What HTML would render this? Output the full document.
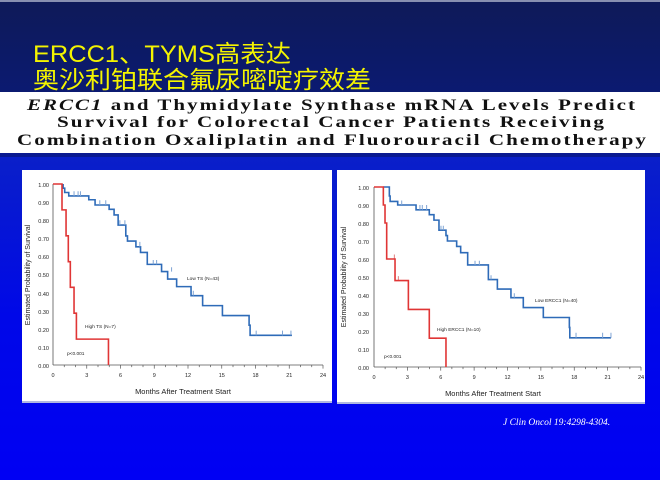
<!DOCTYPE html>
<html><head><meta charset="utf-8"><style>
html,body{margin:0;padding:0;width:660px;height:480px;overflow:hidden}
</style></head><body>
<svg width="660" height="480" viewBox="0 0 660 480" xmlns="http://www.w3.org/2000/svg">
<defs>
<linearGradient id="top" x1="0" y1="0" x2="0" y2="1"><stop offset="0" stop-color="#0e1a58"/><stop offset="1" stop-color="#0b1a72"/></linearGradient>
<linearGradient id="bot" x1="0" y1="0" x2="0" y2="1"><stop offset="0" stop-color="#0a20c8"/><stop offset="0.5" stop-color="#0008e8"/><stop offset="1" stop-color="#0000f4"/></linearGradient>
</defs>
<rect x="0" y="0" width="660" height="96" fill="url(#top)"/>
<rect x="0" y="0" width="660" height="2" fill="#8890b0"/>
<rect x="0" y="153" width="660" height="327" fill="url(#bot)"/>
<rect x="0" y="153" width="660" height="4" fill="#0a1a90"/>
<rect x="0" y="92" width="660" height="61" fill="#ffffff"/>
<g font-family="Liberation Sans, 'Noto Sans CJK SC', sans-serif" fill="#f4f400" font-size="24">
<text x="33" y="62" textLength="258" lengthAdjust="spacingAndGlyphs">ERCC1、TYMS高表达</text>
<text x="33" y="88" textLength="338" lengthAdjust="spacingAndGlyphs">奥沙利铂联合氟尿嘧啶疗效差</text>
</g>
<g font-family="Liberation Serif, serif" font-weight="bold" font-size="15.5" fill="#111" letter-spacing="1.5">
<text x="27" y="110" textLength="610" lengthAdjust="spacingAndGlyphs"><tspan font-style="italic">ERCC1</tspan> and Thymidylate Synthase mRNA Levels Predict</text>
<text x="57" y="127" textLength="549" lengthAdjust="spacingAndGlyphs">Survival for Colorectal Cancer Patients Receiving</text>
<text x="17" y="145" textLength="631" lengthAdjust="spacingAndGlyphs">Combination Oxaliplatin and Fluorouracil Chemotherapy</text>
</g>

<!-- LEFT PANEL -->
<rect x="22" y="170" width="310" height="233" fill="#fff"/>
<rect x="22" y="401" width="310" height="2" fill="#b0b8e0"/>
<g font-family="Liberation Sans, sans-serif" fill="#222">
<g stroke="#555" stroke-width="0.8" fill="none">
<line x1="53" y1="184" x2="53" y2="365"/><line x1="53" y1="365" x2="323" y2="365"/>
</g>
<g font-size="5.5" text-anchor="end">
<text x="49" y="187">1.00</text><text x="49" y="205">0.90</text><text x="49" y="223">0.80</text><text x="49" y="241">0.70</text><text x="49" y="259">0.60</text><text x="49" y="277">0.50</text><text x="49" y="296">0.40</text><text x="49" y="314">0.30</text><text x="49" y="332">0.20</text><text x="49" y="350">0.10</text><text x="49" y="368">0.00</text>
</g>
<g font-size="5.5" text-anchor="middle">
<text x="53" y="377">0</text><text x="86.75" y="377">3</text><text x="120.5" y="377">6</text><text x="154.25" y="377">9</text><text x="188" y="377">12</text><text x="221.75" y="377">15</text><text x="255.5" y="377">18</text><text x="289.25" y="377">21</text><text x="323" y="377">24</text>
</g>
<text x="183" y="394" font-size="7.5" text-anchor="middle">Months  After Treatment Start</text>
<text transform="translate(30,275) rotate(-90)" font-size="7" text-anchor="middle">Estimated  Probability  of  Survival</text>
<text x="187" y="280" font-size="4.8">Low TS (N=43)</text>
<text x="85" y="328" font-size="4.8">High TS (N=7)</text>
<text x="67" y="355" font-size="4.8">p&lt;0.001</text>
</g>
<g transform="translate(53,365) scale(11.25,-181)" fill="none">
<path vector-effect="non-scaling-stroke" stroke="#555" stroke-width="0.7" d="M1 0V-0.012M2 0V-0.012M3 0V-0.02M4 0V-0.012M5 0V-0.012M6 0V-0.02M7 0V-0.012M8 0V-0.012M9 0V-0.02M10 0V-0.012M11 0V-0.012M12 0V-0.02M13 0V-0.012M14 0V-0.012M15 0V-0.02M16 0V-0.012M17 0V-0.012M18 0V-0.02M19 0V-0.012M20 0V-0.012M21 0V-0.02M22 0V-0.012M23 0V-0.012M24 0V-0.02"/>
<path vector-effect="non-scaling-stroke" stroke="#2e6bb8" stroke-width="1.6" d="M0.9 1H0.9V0.977H1.04V0.953H1.4V0.934H3.18V0.913H3.74V0.884H4.99V0.86H5.43V0.829H5.79V0.773H6.47V0.713H6.62V0.685H7.37V0.653H7.78V0.622H8.38V0.556H9.65V0.516H10.19V0.475H10.99V0.433H12.27V0.383H13.3V0.328H15.06V0.273H17.43V0.22H17.52V0.164H21.24"/>
<path vector-effect="non-scaling-stroke" stroke="#7fa4d4" stroke-width="1" d="M1.87 0.934V0.96M2.23 0.934V0.96M2.44 0.934V0.96M4.16 0.884V0.91M4.69 0.884V0.91M5.94 0.773V0.8M6.39 0.773V0.8M7.72 0.653V0.68M8.91 0.556V0.58M9.21 0.556V0.58M10.54 0.516V0.54M12.47 0.383V0.41M18.06 0.164V0.19M20.4 0.164V0.19M21.15 0.164V0.19"/>
<path vector-effect="non-scaling-stroke" stroke="#e03535" stroke-width="1.6" d="M0 1H0.8V0.857H1.16V0.714H1.36V0.571H1.54V0.429H1.87V0.286H2.08V0.143H4.93V0"/>
</g>

<!-- RIGHT PANEL -->
<rect x="337" y="170" width="308" height="234" fill="#fff"/>
<rect x="337" y="402" width="308" height="2" fill="#b0b8e0"/>
<g font-family="Liberation Sans, sans-serif" fill="#222">
<g stroke="#555" stroke-width="0.8" fill="none">
<line x1="374" y1="187" x2="374" y2="367"/><line x1="374" y1="367" x2="641" y2="367"/>
</g>
<g font-size="5.5" text-anchor="end">
<text x="369" y="190">1.00</text><text x="369" y="208">0.90</text><text x="369" y="226">0.80</text><text x="369" y="244">0.70</text><text x="369" y="262">0.60</text><text x="369" y="280">0.50</text><text x="369" y="298">0.40</text><text x="369" y="316">0.30</text><text x="369" y="334">0.20</text><text x="369" y="352">0.10</text><text x="369" y="370">0.00</text>
</g>
<g font-size="5.5" text-anchor="middle">
<text x="374" y="379">0</text><text x="407.4" y="379">3</text><text x="440.8" y="379">6</text><text x="474.1" y="379">9</text><text x="507.5" y="379">12</text><text x="540.9" y="379">15</text><text x="574.3" y="379">18</text><text x="607.6" y="379">21</text><text x="641" y="379">24</text>
</g>
<text x="493" y="396" font-size="7.5" text-anchor="middle">Months  After Treatment Start</text>
<text transform="translate(346,277) rotate(-90)" font-size="7" text-anchor="middle">Estimated  Probability  of  Survival</text>
<text x="535" y="302" font-size="4.8">Low ERCC1 (N=40)</text>
<text x="437" y="331" font-size="4.8">High ERCC1 (N=10)</text>
<text x="384" y="358" font-size="4.8">p&lt;0.001</text>
</g>
<g transform="translate(374,367) scale(11.125,-180)" fill="none">
<path vector-effect="non-scaling-stroke" stroke="#555" stroke-width="0.7" d="M1 0V-0.012M2 0V-0.012M3 0V-0.02M4 0V-0.012M5 0V-0.012M6 0V-0.02M7 0V-0.012M8 0V-0.012M9 0V-0.02M10 0V-0.012M11 0V-0.012M12 0V-0.02M13 0V-0.012M14 0V-0.012M15 0V-0.02M16 0V-0.012M17 0V-0.012M18 0V-0.02M19 0V-0.012M20 0V-0.012M21 0V-0.02M22 0V-0.012M23 0V-0.012M24 0V-0.02"/>
<path vector-effect="non-scaling-stroke" stroke="#2e6bb8" stroke-width="1.6" d="M0.84 1H1.38V0.95H1.45V0.92H2.13V0.9H3.78V0.873H4.97V0.846H5.39V0.816H5.84V0.76H6.47V0.73H6.6V0.7H7.43V0.67H7.79V0.635H8.42V0.567H10.28V0.486H11.09V0.433H12.31V0.385H13.42V0.33H15.22V0.275H17.56V0.22H17.6V0.162H21.3"/>
<path vector-effect="non-scaling-stroke" stroke="#7fa4d4" stroke-width="1" d="M2.49 0.9V0.925M4.13 0.873V0.9M4.34 0.873V0.9M4.73 0.873V0.9M6.02 0.76V0.785M6.23 0.76V0.785M9.08 0.567V0.59M9.47 0.567V0.59M10.52 0.486V0.51M12.61 0.385V0.41M18.16 0.162V0.19M20.55 0.162V0.19M21.3 0.162V0.19"/>
<path vector-effect="non-scaling-stroke" stroke="#e08080" stroke-width="1" d="M1.83 0.6V0.625M2.19 0.48V0.505"/>
<path vector-effect="non-scaling-stroke" stroke="#e03535" stroke-width="1.6" d="M0 1H0.84V0.9H0.99V0.8H1.14V0.6H1.89V0.48H3.09V0.32H4.97V0.16H6.47V0"/>
</g>

<text x="503" y="425" font-family="Liberation Serif, serif" font-style="italic" font-size="9.5" fill="#ffffff">J Clin Oncol 19:4298-4304.</text>
</svg>
</body></html>
